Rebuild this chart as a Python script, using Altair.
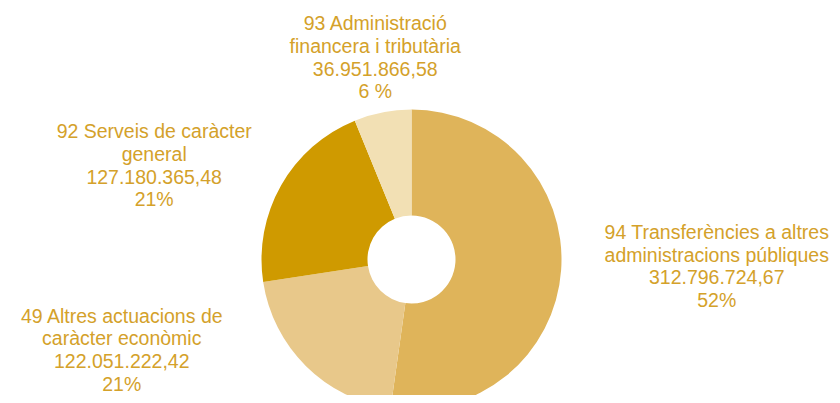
import math
import altair as alt
import pandas as pd

# ---- data ----
codes = ["94", "49", "92", "93"]
line1 = ["94 Transferències a altres", "49 Altres actuacions de",
         "92 Serveis de caràcter", "93 Administració"]
line2 = ["administracions públiques", "caràcter econòmic",
         "general", "financera i tributària"]
amounts = [312796724.67, 122051222.42, 127180365.48, 36951866.58]
amount_text = ["312.796.724,67", "122.051.222,42", "127.180.365,48", "36.951.866,58"]
pct_text = ["52%", "21%", "21%", "6 %"]
colors = ["#dfb45a", "#e8c88a", "#cf9a00", "#f2e0b4"]

df = pd.DataFrame({
    "code": codes,
    "amount": amounts,
    "order": list(range(len(codes))),
    "label": [[a, b, c, d] for a, b, c, d in zip(line1, line2, amount_text, pct_text)],
})

CX, CY = 403.5, 251.5
TEXT_COLOR = "#d4a12a"
LH = 22.6

base = alt.Chart(df)

arcs = base.transform_joinaggregate(
    total="sum(amount)"
).transform_window(
    cum="sum(amount)", sort=[alt.SortField("order")], frame=[None, 0]
).transform_calculate(
    start="(datum.cum - datum.amount) / datum.total",
    end="datum.cum / datum.total",
).mark_arc(outerRadius=150, innerRadius=44, x=CX, y=CY).encode(
    theta=alt.Theta("start:Q", stack=None, scale=alt.Scale(domain=[0, 1], range=[0, 2 * math.pi])),
    theta2="end:Q",
    color=alt.Color("code:N", scale=alt.Scale(domain=codes, range=colors), legend=None),
)


def label_layer(code, r, dx, dy):
    return base.transform_joinaggregate(
        total="sum(amount)"
    ).transform_window(
        cum="sum(amount)", sort=[alt.SortField("order")], frame=[None, 0]
    ).transform_calculate(
        mid="(datum.cum - datum.amount / 2) / datum.total"
    ).transform_filter(
        alt.datum.code == code
    ).mark_text(
        font="Liberation Sans", fontSize=19.5, lineHeight=LH,
        color=TEXT_COLOR, align="center", baseline="middle", dx=dx, dy=dy - 1.5 * LH,
        x=CX, y=CY,
    ).encode(
        theta=alt.Theta("mid:Q", stack=None, scale=alt.Scale(domain=[0, 1], range=[0, 2 * math.pi])),
        radius=alt.value(r),
        text="label",
    )


labels = [
    label_layer("94", 309, -3, -14),
    label_layer("49", 304, -76, -125),
    label_layer("92", 274, -19, 42),
    label_layer("93", 204, 3, -1),
]

chart = alt.layer(arcs, *labels).properties(
    width=824, height=387, padding=0, autosize=alt.AutoSizeParams(type="none")
).configure_view(stroke=None)

chart.save("out.html", embed_options={"renderer": "svg", "actions": False})
